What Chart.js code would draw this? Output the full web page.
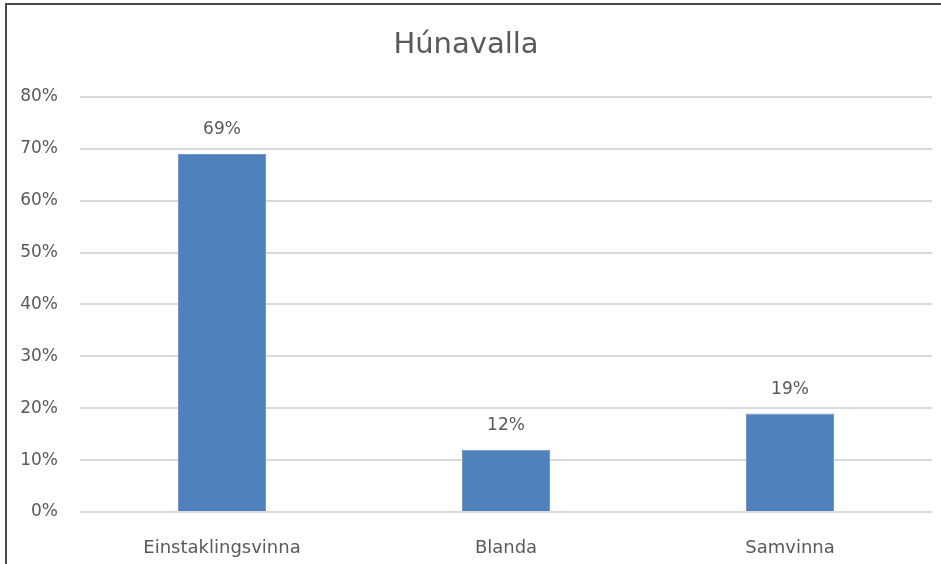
<!DOCTYPE html>
<html>
<head>
<meta charset="utf-8">
<script src="https://cdn.jsdelivr.net/npm/chart.js@4"></script>
<style>
  html, body { margin: 0; padding: 0; background: #fff; overflow: hidden; }
  .chart__container { position: relative; width: 941px; height: 564px; }
  .frame { position: absolute; left: 5px; top: 3px; width: 960px; height: 600px;
           border-top: 2px solid #4a4a4a; border-left: 2px solid #4a4a4a; pointer-events: none; }
</style>
</head>
<body>
<div class="chart__container">
  <canvas id="chart" width="941" height="564"></canvas>
  <div class="frame"></div>
</div>
<script>
const title = 'Húnavalla';
const categories = ['Einstaklingsvinna', 'Blanda', 'Samvinna'];
const values = [69, 12, 19];
const y_ticks = [0, 10, 20, 30, 40, 50, 60, 70, 80];

const text_color = '#595959';
const font_family = '"DejaVu Sans", sans-serif';

// value labels above each bar
const bar_labels = {
    id: 'bar_labels',
    afterDatasetsDraw(chart) {
        const ctx = chart.ctx;
        const meta = chart.getDatasetMeta(0);
        ctx.save();
        ctx.fillStyle = text_color;
        ctx.font = '17px ' + font_family;
        ctx.textAlign = 'center';
        ctx.textBaseline = 'middle';
        meta.data.forEach((bar, i) => {
            ctx.fillText(values[i] + '%', bar.x, bar.y - 24);
        });
        ctx.restore();
    }
};

new Chart(document.getElementById('chart'), {
    type: 'bar',
    data: {
        labels: categories,
        datasets: [{
            data: values,
            backgroundColor: '#4f81bd',
            borderColor: '#6f98cc',
            borderWidth: 1,
            categoryPercentage: 1,
            barPercentage: 0.31
        }]
    },
    options: {
        responsive: false,
        animation: false,
        layout: { padding: { left: 0, right: 9, top: 0, bottom: 0 } },
        plugins: {
            legend: { display: false },
            tooltip: { enabled: false },
            title: {
                display: true,
                text: title,
                color: text_color,
                font: { family: font_family, size: 29, weight: 'normal' },
                padding: { top: 28, bottom: 34 }
            }
        },
        scales: {
            x: {
                afterFit(scale) { scale.height = 52; },
                grid: { display: false, drawTicks: false },
                border: { display: false },
                ticks: {
                    color: text_color,
                    font: { family: font_family, size: 18 },
                    padding: 26,
                    maxRotation: 0
                }
            },
            y: {
                min: 0,
                max: 80,
                afterFit(scale) { scale.width = 80; },
                afterBuildTicks(scale) { scale.ticks = y_ticks.map(v => ({ value: v })); },
                grid: { color: '#d9d9d9', lineWidth: 2, drawTicks: false },
                border: { display: false },
                ticks: {
                    color: text_color,
                    font: { family: font_family, size: 17 },
                    padding: 22,
                    callback: v => v + '%'
                }
            }
        }
    },
    plugins: [bar_labels]
});
</script>
</body>
</html>
